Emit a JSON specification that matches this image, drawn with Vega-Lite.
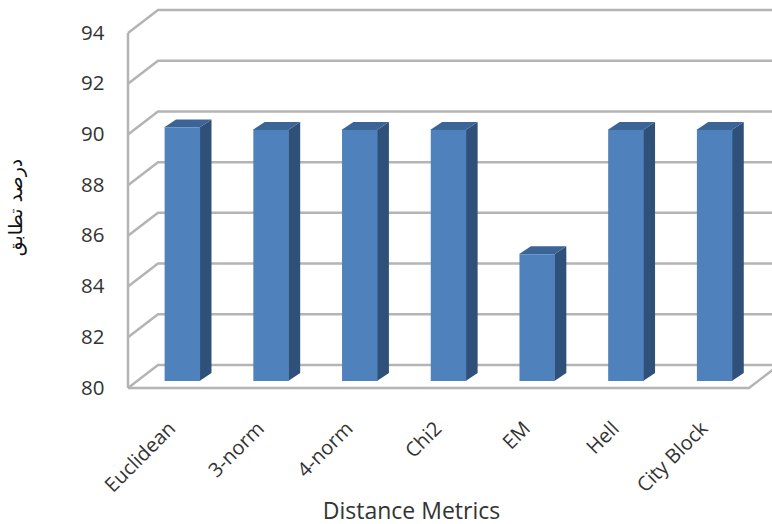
{
"$schema":"https://vega.github.io/schema/vega-lite/v6.json",
"width":621,"height":355,
"autosize":{"type":"none"},
"padding":{"left":128,"top":33,"right":23,"bottom":136},
"background":"white",
"view":{"stroke":null},
"config":{"font":"Open Sans"},
"datasets":{
"rows":[
{"metric":"Euclidean","order":0,"value":90},
{"metric":"3-norm","order":1,"value":89.9},
{"metric":"4-norm","order":2,"value":89.9},
{"metric":"Chi2","order":3,"value":89.9},
{"metric":"EM","order":4,"value":85},
{"metric":"Hell","order":5,"value":89.9},
{"metric":"City Block","order":6,"value":89.9}],
"ticks":[{"tick":80},{"tick":82},{"tick":84},{"tick":86},{"tick":88},{"tick":90},{"tick":92},{"tick":94}]
},
"resolve":{"scale":{"x":"independent"}},
"layer":[
{"data":{"name":"ticks"},
 "transform":[{"calculate":"[0,1,2]","as":"p"},{"flatten":["p"]},
  {"calculate":"datum.p==0?0:(datum.p==1?0.338:7.338)","as":"gx"},
  {"calculate":"datum.tick+(datum.p==0?0:0.907)","as":"gy"}],
 "mark":{"type":"line","color":"#b4b4b4","strokeWidth":2.5,"clip":false},
 "encoding":{
  "x":{"field":"gx","type":"quantitative","scale":{"domain":[0,7],"nice":false,"zero":false},"axis":null},
  "y":{"field":"gy","type":"quantitative","scale":{"domain":[80,94],"nice":false,"zero":false},
   "axis":{"values":[80,82,84,86,88,90,92,94],"domain":false,"ticks":false,"grid":false,"labelPadding":24,"labelFontSize":20.5,"labelColor":"#333333","labelFont":"Open Sans",
    "title":"درصد تطابق","titleFont":"DejaVu Sans","titleFontSize":19,"titleFontWeight":"normal","titleColor":"#111111","titleX":-103,"titleY":174,"titleAnchor":"middle"}},
  "detail":{"field":"tick"},
  "order":{"field":"p"}}},
{"data":{"values":[{"yv":80},{"yv":94}]},
 "mark":{"type":"line","color":"#b4b4b4","strokeWidth":2.5},
 "encoding":{"x":{"datum":0,"type":"quantitative","scale":{"domain":[0,7],"nice":false,"zero":false},"axis":null},
  "y":{"field":"yv","type":"quantitative"}}},
{"data":{"values":[{"a":0,"b":80},{"a":7,"b":80},{"a":7.338,"b":80.907}]},
 "mark":{"type":"line","color":"#b4b4b4","strokeWidth":2.5,"clip":false},
 "encoding":{"x":{"field":"a","type":"quantitative","scale":{"domain":[0,7],"nice":false,"zero":false},"axis":null},
  "y":{"field":"b","type":"quantitative"}}},
{"data":{"name":"rows"},
 "transform":[{"calculate":"[0,1]","as":"d"},{"flatten":["d"]},
  {"calculate":"datum.order+0.806+datum.d*0.135","as":"sx"},
  {"calculate":"datum.value+0.276+datum.d*0.315","as":"st"},
  {"calculate":"80.276+datum.d*0.315","as":"sb"}],
 "mark":{"type":"area","color":"#2f5078","orient":"vertical","clip":false},
 "encoding":{"x":{"field":"sx","type":"quantitative","scale":{"domain":[0,7],"nice":false,"zero":false},"axis":null},
  "y":{"field":"st","type":"quantitative","stack":null},"y2":{"field":"sb"},"detail":{"field":"metric"}}},
{"data":{"name":"rows"},
 "transform":[{"calculate":"[0,1]","as":"d"},{"flatten":["d"]},
  {"calculate":"datum.order+0.406+datum.d*0.135","as":"t0"},
  {"calculate":"datum.order+0.806+datum.d*0.135","as":"t1"},
  {"calculate":"datum.value+0.276+datum.d*0.315","as":"ty"}],
 "mark":{"type":"area","color":"#3a6596","orient":"horizontal","clip":false},
 "encoding":{"y":{"field":"ty","type":"quantitative"},
  "x":{"field":"t0","type":"quantitative","stack":null,"scale":{"domain":[0,7],"nice":false,"zero":false},"axis":null},
  "x2":{"field":"t1"},"detail":{"field":"metric"}}},
{"data":{"name":"rows"},
 "mark":{"type":"bar","color":"#4f81bd","xOffset":10,"x2Offset":10,"yOffset":-7,"y2Offset":-7,"clip":false},
 "encoding":{
  "x":{"field":"metric","type":"nominal","sort":{"field":"order"},
   "scale":{"paddingInner":0.6,"paddingOuter":0.3},
   "axis":{"title":"Distance Metrics","titleFont":"Open Sans","titleFontSize":23,"titleFontWeight":"normal","titleColor":"#333333","titleX":283,"titleY":123,"titleBaseline":"middle",
    "labelAngle":-45,"labelAlign":"right","labelBaseline":"top","labelFontSize":20,"labelColor":"#333333","labelPadding":30,"labelOffset":-7,"ticks":false,"domain":false,"grid":false}},
  "y":{"field":"value","type":"quantitative"},
  "y2":{"datum":80}}}
]
}
